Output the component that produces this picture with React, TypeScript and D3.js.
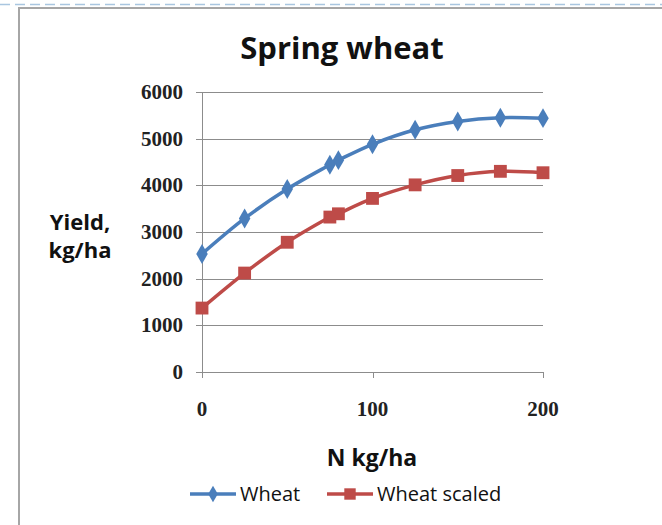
import React, { useEffect, useRef } from "react";
import * as d3 from "d3";

const nRates = [0, 25, 50, 75, 80, 100, 125, 150, 175, 200];
const wheat = [2530, 3290, 3920, 4440, 4540, 4880, 5190, 5370, 5450, 5440];
const wheatScaled = [1370, 2120, 2780, 3320, 3390, 3720, 4010, 4210, 4300, 4270];
const yTicks = [0, 1000, 2000, 3000, 4000, 5000, 6000];
const xTicks = [0, 100, 200];
const seriesNames = ["Wheat", "Wheat scaled"];

const W = 662;
const H = 525;
const BLUE = "#4A7EBB";
const RED = "#BE4B48";
const SANS = "'Open Sans', Lato, sans-serif";
const SERIF = "'Liberation Serif', 'DejaVu Serif', serif";

export default function App() {
  const ref = useRef<SVGSVGElement | null>(null);

  useEffect(() => {
    const svg = d3.select(ref.current);
    svg.selectAll("*").remove();

    // frame
    svg
      .append("line")
      .attr("x1", 0)
      .attr("x2", W)
      .attr("y1", 4.5)
      .attr("y2", 4.5)
      .style("stroke", "#A9C6E0")
      .style("stroke-width", 1.5)
      .style("stroke-dasharray", "10 5");
    svg
      .append("path")
      .attr("d", `M19,${H} V8 H${W}`)
      .style("fill", "none")
      .style("stroke", "#A6A6A6")
      .style("stroke-width", 2);

    const x = d3.scaleLinear().domain([0, 200]).range([202, 543]);
    const y = d3.scaleLinear().domain([0, 6000]).range([372, 92]);

    // gridlines
    svg
      .append("g")
      .selectAll("line")
      .data(yTicks)
      .enter()
      .append("line")
      .attr("x1", 196)
      .attr("x2", x(200))
      .attr("y1", d => Math.round(y(d)) + 0.5)
      .attr("y2", d => Math.round(y(d)) + 0.5)
      .style("stroke", "#8C8C8C")
      .style("stroke-width", 1);

    // y axis line
    svg
      .append("line")
      .attr("x1", x(0) + 0.5)
      .attr("x2", x(0) + 0.5)
      .attr("y1", y(6000))
      .attr("y2", y(0))
      .style("stroke", "#8C8C8C");

    // x ticks
    svg
      .append("g")
      .selectAll("line")
      .data(xTicks)
      .enter()
      .append("line")
      .attr("x1", d => Math.round(x(d)) + 0.5)
      .attr("x2", d => Math.round(x(d)) + 0.5)
      .attr("y1", y(0))
      .attr("y2", y(0) + 6)
      .style("stroke", "#8C8C8C");

    // y tick labels
    svg
      .append("g")
      .selectAll("text")
      .data(yTicks)
      .enter()
      .append("text")
      .attr("x", 183)
      .attr("y", d => y(d) + 7)
      .attr("text-anchor", "end")
      .style("font-family", SERIF)
      .style("font-weight", "bold")
      .style("font-size", "21px")
      .style("fill", "#222")
      .text(d => d);

    // x tick labels
    svg
      .append("g")
      .selectAll("text")
      .data(xTicks)
      .enter()
      .append("text")
      .attr("x", d => x(d))
      .attr("y", 416)
      .attr("text-anchor", "middle")
      .style("font-family", SERIF)
      .style("font-weight", "bold")
      .style("font-size", "21px")
      .style("fill", "#222")
      .text(d => d);

    // titles
    svg
      .append("text")
      .attr("x", 342)
      .attr("y", 59)
      .attr("text-anchor", "middle")
      .style("font-family", SANS)
      .style("font-weight", "bold")
      .style("font-size", "31px")
      .style("fill", "#111")
      .text("Spring wheat");

    svg
      .append("text")
      .attr("x", 372)
      .attr("y", 466)
      .attr("text-anchor", "middle")
      .style("font-family", SANS)
      .style("font-weight", "bold")
      .style("font-size", "23px")
      .style("fill", "#111")
      .text("N kg/ha");

    const yl = svg
      .append("text")
      .attr("text-anchor", "middle")
      .style("font-family", SANS)
      .style("font-weight", "bold")
      .style("font-size", "22px")
      .style("fill", "#111");
    yl.append("tspan").attr("x", 80).attr("y", 230).text("Yield,");
    yl.append("tspan").attr("x", 80).attr("y", 258).text("kg/ha");

    // series
    const series = [
      { name: seriesNames[0], values: wheat, color: BLUE, symbol: d3.symbolDiamond },
      { name: seriesNames[1], values: wheatScaled, color: RED, symbol: d3.symbolSquare },
    ];

    const line = d3
      .line<number>()
      .x((d, i) => x(nRates[i]))
      .y(d => y(d))
      .curve(d3.curveCatmullRom.alpha(0));

    series.forEach(s => {
      svg
        .append("path")
        .attr("d", line(s.values))
        .style("fill", "none")
        .style("stroke", s.color)
        .style("stroke-width", 3.5);

      const sym = d3
        .symbol()
        .type(s.symbol)
        .size(s.symbol === d3.symbolSquare ? 165 : 115);

      svg
        .append("g")
        .selectAll("path")
        .data(s.values)
        .enter()
        .append("path")
        .attr("transform", (d, i) => `translate(${x(nRates[i])},${y(d)})`)
        .attr("d", sym())
        .style("fill", s.color);
    });

    // legend
    const legendX = [190, 327];
    const legendY = 494;
    series.forEach((s, i) => {
      const g = svg.append("g").attr("transform", `translate(${legendX[i]},${legendY})`);
      g.append("line")
        .attr("x1", 0)
        .attr("x2", 46)
        .attr("y1", 0)
        .attr("y2", 0)
        .style("stroke", s.color)
        .style("stroke-width", 3.5);
      g.append("path")
        .attr("transform", "translate(23,0)")
        .attr("d", d3.symbol().type(s.symbol).size(s.symbol === d3.symbolSquare ? 130 : 80)())
        .style("fill", s.color);
      g.append("text")
        .attr("x", 50)
        .attr("y", 7)
        .style("font-family", SANS)
        .style("font-size", "20px")
        .style("fill", "#111")
        .text(s.name);
    });
  }, []);

  return (
    <div style={{ position: "absolute", left: 0, top: 0 }}>
      <svg ref={ref} width={W} height={H} style={{ display: "block", background: "#fff" }} />
    </div>
  );
}
